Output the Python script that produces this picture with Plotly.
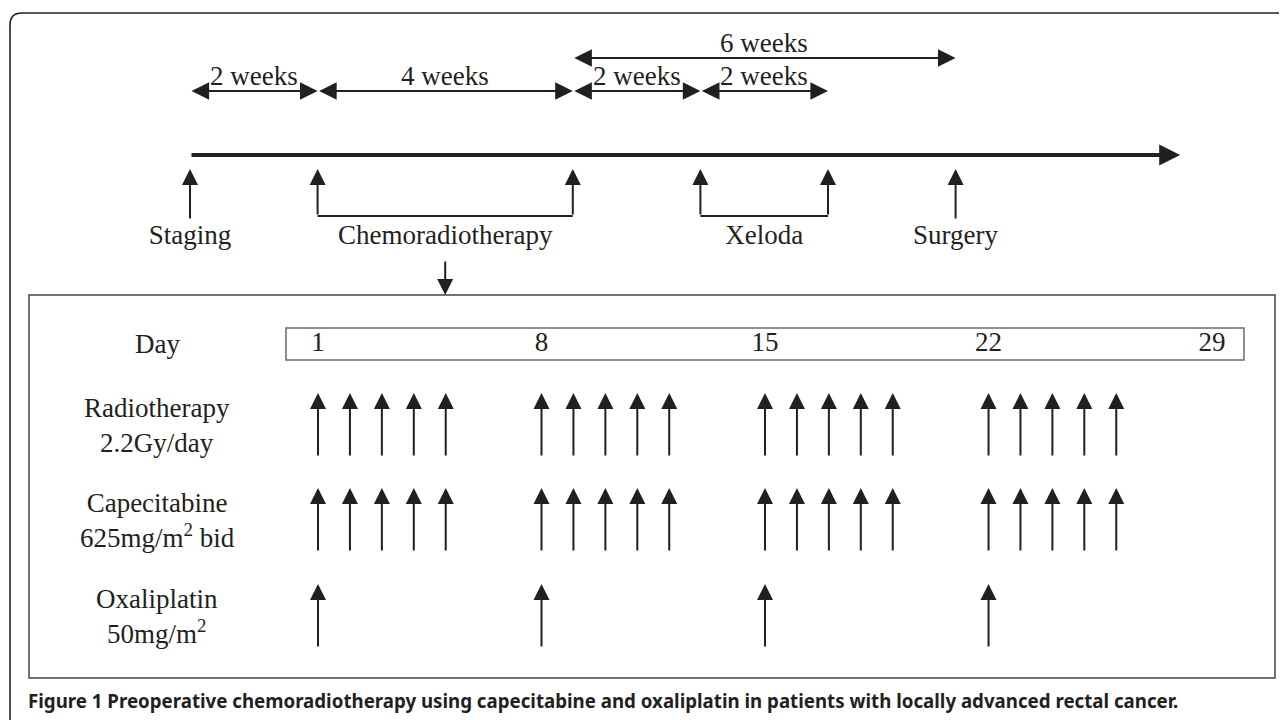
import plotly.graph_objects as go

# ---------------------------------------------------------------------------
# data
# ---------------------------------------------------------------------------
# timeline, in weeks from staging
event_names = ["Staging", "Chemoradiotherapy", "Xeloda", "Surgery"]
event_weeks = [0, 4, 9, 12]            # label centre
phase_starts = [2, 8]                   # chemoradiotherapy, xeloda brackets
phase_ends = [6, 10]
single_events = [0, 12]                 # staging, surgery

interval_starts = [0, 2, 6, 8]
interval_ends = [2, 6, 8, 10]
interval_labels = ["2 weeks", "4 weeks", "2 weeks", "2 weeks"]
long_interval = (6, 12, "6 weeks")

# treatment schedule, in days
day_ticks = [1, 8, 15, 22, 29]
row_labels = [
    "Radiotherapy<br>2.2Gy/day",
    "Capecitabine<br>625mg/m<sup>2</sup> bid",
    "Oxaliplatin<br>50mg/m<sup>2</sup>",
]
radiotherapy_days = [1, 2, 3, 4, 5, 8, 9, 10, 11, 12, 15, 16, 17, 18, 19, 22, 23, 24, 25, 26]
capecitabine_days = [1, 2, 3, 4, 5, 8, 9, 10, 11, 12, 15, 16, 17, 18, 19, 22, 23, 24, 25, 26]
oxaliplatin_days = [1, 8, 15, 22]

caption = ("Figure 1 Preoperative chemoradiotherapy using capecitabine and oxaliplatin "
           "in patients with locally advanced rectal cancer.")

# ---------------------------------------------------------------------------
# styling
# ---------------------------------------------------------------------------
# the page body has an 8px margin, so the figure is drawn 8px smaller and
# its coordinates start at page pixel 8
PAD = 8
W, H = 1287, 720
INK = "#231f20"
SERIF = "Liberation Serif"
FS = 27

# week axis: week 0 at px 190, 63.8 px per week
WK0, WKPX = 190, 63.8
# day axis: day 1 at px 318, 31.93 px per day
D0, DPX = 318, 31.93

fig = go.Figure()

# event labels under the timeline (week axis)
fig.add_trace(go.Scatter(
    x=event_weeks, y=[237] * len(event_weeks), mode="text", text=event_names,
    textfont=dict(family=SERIF, size=FS, color=INK), xaxis="x3", yaxis="y",
    hoverinfo="skip", showlegend=False,
))

# brackets for the two phases
for s, e in zip(phase_starts, phase_ends):
    fig.add_trace(go.Scatter(
        x=[s, e], y=[216, 216], mode="lines", line=dict(color=INK, width=2.2),
        xaxis="x3", yaxis="y", hoverinfo="skip", showlegend=False,
    ))

# day numbers
fig.add_trace(go.Scatter(
    x=day_ticks, y=[344] * len(day_ticks), mode="text", text=[str(d) for d in day_ticks],
    textfont=dict(family=SERIF, size=FS, color=INK), xaxis="x2", yaxis="y",
    hoverinfo="skip", showlegend=False,
))

ann = []


def arrow(x, y, ax, ay, xref, width=2.0, size=1.6, both=False):
    ann.append(dict(
        x=x, y=y, ax=ax, ay=ay, xref=xref, yref="y", axref=xref, ayref="y",
        text="", showarrow=True, arrowhead=2, startarrowhead=2,
        arrowsize=size, startarrowsize=size, arrowwidth=width, arrowcolor=INK,
        arrowside="end+start" if both else "end", standoff=0, startstandoff=0,
    ))


# main timeline
arrow(15.52, 155, 0, 155, "x3", width=4.2, size=1.0)

# interval arrows
for s, e, lab in zip(interval_starts, interval_ends, interval_labels):
    arrow(e, 91, s, 91, "x3", width=2.2, size=1.6, both=True)
    ann.append(dict(x=(s + e) / 2, y=76, xref="x3", yref="y", text=lab, showarrow=False,
                    font=dict(family=SERIF, size=FS, color=INK)))
s, e, lab = long_interval
arrow(e, 58, s, 58, "x3", width=2.2, size=1.6, both=True)
ann.append(dict(x=(s + e) / 2, y=43, xref="x3", yref="y", text=lab, showarrow=False,
                font=dict(family=SERIF, size=FS, color=INK)))

# event arrows up to the timeline
for w in single_events:
    arrow(w, 169, w, 220, "x3")
for s, e in zip(phase_starts, phase_ends):
    arrow(s, 169, s, 216, "x3")
    arrow(e, 169, e, 216, "x3")

# chemoradiotherapy -> detail box
arrow(event_weeks[1], 295, event_weeks[1], 260, "x3")

# schedule rows
row_y = [425, 520, 616]
row_days = [radiotherapy_days, capecitabine_days, oxaliplatin_days]
for lab, yc, days in zip(row_labels, row_y, row_days):
    ann.append(dict(x=157, y=yc, xref="x", yref="y", text=lab, showarrow=False,
                    align="center", font=dict(family=SERIF, size=FS, color=INK)))
    for d in days:
        arrow(d, yc - 32, d, yc + 32, "x2")

ann.append(dict(x=157, y=344, xref="x", yref="y", text="Day", showarrow=False,
                font=dict(family=SERIF, size=FS, color=INK)))

ann.append(dict(x=26, y=700, xref="x", yref="y", text="<b>" + caption + "</b>",
                showarrow=False, xanchor="left",
                font=dict(family="Noto Sans", size=18.7, color=INK)))

shapes = [
    # outer rounded frame (open at the bottom / right)
    dict(type="path", xref="x", yref="y",
         path="M 10,730 L 10,25 Q 10,13 22,13 L 1300,13",
         line=dict(color=INK, width=1.6)),
    # detail box
    dict(type="rect", xref="x", yref="y", x0=29, x1=1275, y0=295, y1=678,
         line=dict(color="#444444", width=1.5)),
    # day strip
    dict(type="rect", xref="x", yref="y", x0=286, x1=1244, y0=328, y1=360,
         line=dict(color="#6a6a6a", width=1.5)),
]

hidden = dict(visible=False, showgrid=False, zeroline=False, fixedrange=True)
fig.update_layout(
    width=W - PAD, height=H - PAD, margin=dict(l=0, r=0, t=0, b=0),
    paper_bgcolor="white", plot_bgcolor="white",
    xaxis=dict(range=[PAD, W], **hidden),
    xaxis2=dict(range=[1 + (PAD - D0) / DPX, 1 + (W - D0) / DPX], overlaying="x", **hidden),
    xaxis3=dict(range=[(PAD - WK0) / WKPX, (W - WK0) / WKPX], overlaying="x", **hidden),
    yaxis=dict(range=[H, PAD], **hidden),
    annotations=ann, shapes=shapes, showlegend=False,
)

fig.write_html("out.html")
